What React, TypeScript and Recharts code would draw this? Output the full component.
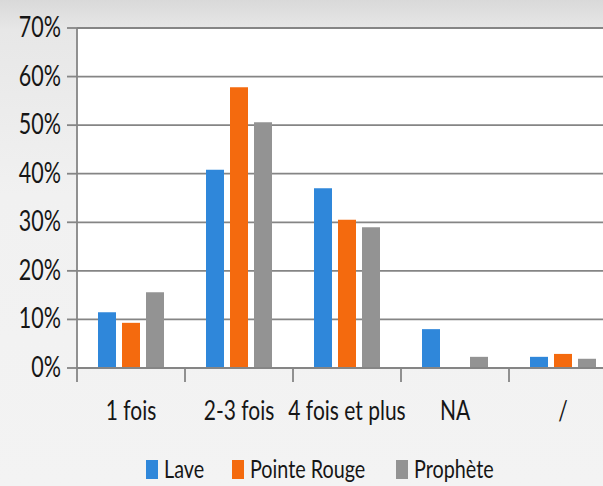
import React from 'react';
import { BarChart, Bar, XAxis, YAxis, CartesianGrid } from 'recharts';

const categories = ['1 fois', '2-3 fois', '4 fois et plus', 'NA', '/'];
const lave = [11.5, 40.8, 37.0, 8.0, 2.3];
const pointeRouge = [9.3, 57.8, 30.5, 0, 2.9];
const prophete = [15.6, 50.6, 29.0, 2.3, 1.9];
const yTicks = [0, 10, 20, 30, 40, 50, 60, 70];
const seriesKeys = ['lave', 'pointeRouge', 'prophete'];
const seriesNames = ['Lave', 'Pointe Rouge', 'Prophète'];
const seriesColors = ['#2F87DA', '#F46A0E', '#939393'];

const data = categories.map((c, i) => ({
  cat: c,
  lave: lave[i],
  pointeRouge: pointeRouge[i],
  prophete: prophete[i],
}));

const FONT = "Lato, 'DejaVu Sans Condensed', sans-serif";
const TEXT = '#161616';
const AXIS = '#858585';

const CHART_W = 617;
const CHART_H = 486;
const Y_W = 77;
const BAND = (CHART_W - Y_W) / categories.length;

const YTick = (props: any) => {
  const { x, y, payload } = props;
  return (
    <g transform={`translate(${x},${y + 9}) scale(0.86,1.15)`}>
      <text x={0} y={0} textAnchor="end" fontFamily={FONT} fontSize={25} fill={TEXT}>
        {payload.value + '%'}
      </text>
    </g>
  );
};

const XTick = (props: any) => {
  const { x, y, payload } = props;
  return (
    <g>
      <line x1={x - BAND / 2} x2={x - BAND / 2} y1={y} y2={y + 14} stroke={AXIS} strokeWidth={1.8} />
      <g transform={`translate(${x},${y + 52}) scale(0.84,1.07)`}>
        <text x={0} y={0} textAnchor="middle" fontFamily={FONT} fontSize={25} fill={TEXT}>
          {payload.value}
        </text>
      </g>
    </g>
  );
};

const Legendary = () => {
  const squareX = [146, 232, 396];
  return (
    <svg width={603} height={30} style={{ position: 'absolute', left: 0, top: 454, overflow: 'visible' }}>
      {seriesNames.map((n, i) => (
        <g key={n}>
          <rect x={squareX[i]} y={6} width={12} height={19} fill={seriesColors[i]} />
          <g transform={`translate(${squareX[i] + 18},24) scale(0.86,1.06)`}>
            <text x={0} y={0} fontFamily={FONT} fontSize={23} fill={TEXT}>
              {n}
            </text>
          </g>
        </g>
      ))}
    </svg>
  );
};

export default function App() {
  return (
    <div
      style={{
        position: 'absolute',
        left: 0,
        top: 0,
        width: 603,
        height: 486,
        overflow: 'hidden',
        background: 'linear-gradient(180deg, #d9d9d9 0%, #e7e7e7 6%, #f1f1f1 40%, #f3f3f3 100%)',
      }}
    >
      <BarChart
        width={CHART_W}
        height={CHART_H}
        data={data}
        margin={{ top: 28, right: 0, left: 0, bottom: 0 }}
        barCategoryGap={21}
        barGap={6}
      >
        <CartesianGrid vertical={false} stroke={AXIS} strokeWidth={1.8} fill="#ffffff" fillOpacity={1} />
        <XAxis
          dataKey="cat"
          height={118}
          tickLine={false}
          tickSize={0}
          tickMargin={0}
          axisLine={{ stroke: AXIS, strokeWidth: 1.8 }}
          tick={<XTick />}
          interval={0}
        />
        <YAxis
          width={Y_W}
          domain={[0, 70]}
          ticks={yTicks}
          interval={0}
          tickSize={10}
          tickMargin={6}
          tickLine={{ stroke: AXIS, strokeWidth: 1.8 }}
          axisLine={{ stroke: AXIS, strokeWidth: 1.8 }}
          tick={<YTick />}
        />
        {seriesKeys.map((k, i) => (
          <Bar key={k} dataKey={k} name={seriesNames[i]} fill={seriesColors[i]} isAnimationActive={false} />
        ))}
      </BarChart>
      <Legendary />
    </div>
  );
}
